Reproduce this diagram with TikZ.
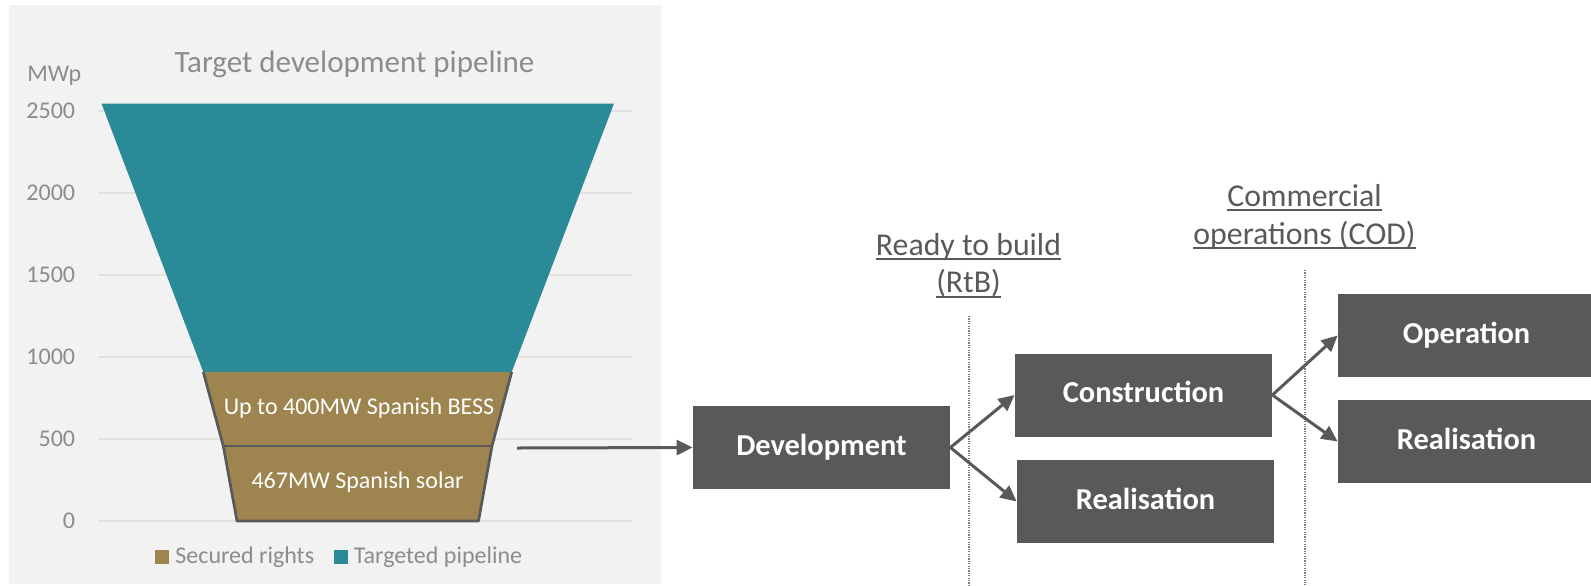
\documentclass[tikz,border=0pt]{standalone}
\usepackage{fontspec}
\setmainfont{Carlito}
\usetikzlibrary{arrows.meta}
\definecolor{panel}{HTML}{F2F2F2}
\definecolor{gridc}{HTML}{E2E2E2}
\definecolor{tealc}{HTML}{2A8A98}
\definecolor{brownc}{HTML}{9E844E}
\definecolor{edgec}{HTML}{595959}
\definecolor{boxc}{HTML}{58595B}
\definecolor{axisc}{HTML}{8C8C8C}
\definecolor{headc}{HTML}{595959}
\definecolor{dotc}{HTML}{7F7F7F}
% underline at a fixed depth below the baseline, crossing descenders
\newcommand{\ulbar}[1]{\setbox0=\hbox{#1}\rlap{\vrule width\wd0 height-0.095em depth0.155em}\box0}

\tikzset{
  axislbl/.style={anchor=base east, inner sep=0pt, text=axisc, font=\fontsize{12}{14}\selectfont},
  gridln/.style={draw=gridc, line width=0.75pt},
  stagebox/.style={fill=boxc, text=white, inner sep=0pt, minimum width=128.5pt,
    minimum height=41.5pt, text height=0.78em, text depth=0pt,
    font=\bfseries\fontsize{15.2}{18}\selectfont},
  flow/.style={draw=edgec, line width=1.5pt, -{Triangle[length=8pt,width=7.5pt]}},
  milestone/.style={draw=dotc, line width=0.6pt, dash pattern=on 0.6pt off 0.6pt},
  hdr/.style={anchor=base, inner sep=0pt, text=headc, font=\fontsize{15.9}{19}\selectfont},
  funnellbl/.style={anchor=base, inner sep=0pt, text=white, font=\fontsize{12}{14}\selectfont},
  legendlbl/.style={anchor=base west, inner sep=0pt, text=axisc, font=\fontsize{12}{14}\selectfont},
}

\begin{document}
\begin{tikzpicture}[x=0.5pt,y=-0.5pt]
\useasboundingbox (0,0) rectangle (1591,585);
\fill[white] (0,0) rectangle (1591,585);

% ---- chart panel ----
\fill[panel] (9,5) rectangle (661,584);

\foreach \v/\yy in {0/521,500/439,1000/357,1500/275,2000/193,2500/111} {
  \draw[gridln] (98,\yy) -- (632,\yy);
  \node[axislbl] (tick\v) at (75.5,\yy+7) {\v};
}
\node[anchor=base west, inner sep=0pt, text=axisc, font=\fontsize{12}{14}\selectfont]
  (unit) at (27,81) {MWp};
\node[anchor=base, inner sep=0pt, text=axisc, font=\fontsize{15.5}{18}\selectfont]
  (title) at (354.5,72) {Target development pipeline};

% funnel: targeted pipeline on top, secured rights below
\fill[tealc] (101.5,103.5) -- (614,103.5) -- (511.7,372) -- (203.3,372) -- cycle;
\fill[brownc] (203.3,372) -- (511.7,372) -- (492,446) -- (478.5,521)
  -- (237,521) -- (223.3,446) -- cycle;
\draw[edgec, line width=1.35pt, line join=round]
  (203.3,372) -- (223.3,446) -- (237,521) -- (478.5,521) -- (492,446) -- (511.7,372);
\draw[edgec, line width=1.35pt] (223.3,446) -- (492,446);

\node[funnellbl] (bess) at (359,414.5) {Up to 400MW Spanish BESS};
\node[funnellbl] (solar) at (357.5,488.3) {467MW Spanish solar};

% legend
\fill[brownc] (155,549.5) rectangle (169,563.5);
\node[legendlbl] (legsec) at (175,563.3) {Secured rights};
\fill[tealc] (334.3,549.5) rectangle (348.3,563.5);
\node[legendlbl] (legtgt) at (353.5,563.3) {Targeted pipeline};

% ---- project stages ----
\coordinate (rtbtop) at (969,316);
\coordinate (rtbbot) at (969,585);
\coordinate (codtop) at (1305,270);
\coordinate (codbot) at (1305,585);
\draw[milestone] (rtbtop) -- (rtbbot);
\draw[milestone] (codtop) -- (codbot);

\node[hdr] (rtb1) at (968.5,255) {\ulbar{Ready to build}};
\node[hdr] (rtb2) at (968.5,292.7) {\ulbar{(RtB)}};
\node[hdr] (cod1) at (1304.5,206) {\ulbar{Commercial}};
\node[hdr] (cod2) at (1304.5,244) {\ulbar{operations (COD)}};

\node[stagebox] (dev) at (821.5,447.5) {Development};
\node[stagebox] (con) at (1143.5,395) {Construction};
\node[stagebox] (real1) at (1145.5,501.5) {Realisation};
\node[stagebox] (oper) at (1466.5,335.5) {Operation};
\node[stagebox] (real2) at (1466.5,441.5) {Realisation};

\coordinate (src) at (517,448);
\draw[flow] (src) -- (dev.west);
\draw[flow] (dev.east) -- (con.west);
\draw[flow] (dev.east) -- (real1.west);
\draw[flow] (con.east) -- (oper.west);
\draw[flow] (con.east) -- (real2.west);
\end{tikzpicture}
\end{document}
